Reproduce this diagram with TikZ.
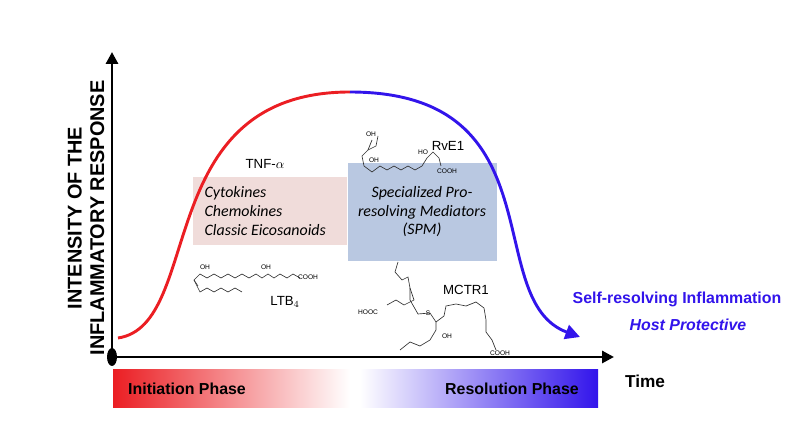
\documentclass[tikz,border=0pt]{standalone}
\usepackage{fontspec}
\setmainfont{Liberation Sans}
\newfontfamily\calib{Carlito}
\usetikzlibrary{arrows.meta,positioning}
\definecolor{initred}{RGB}{235,30,35}
\definecolor{resblue}{RGB}{50,20,235}
\definecolor{pinkbox}{RGB}{240,220,218}
\definecolor{bluebox}{RGB}{185,200,225}
\tikzset{
  axis/.style={line width=2.2pt,-{Triangle[length=9pt,width=9pt]}},
  phase/.style={font=\bfseries\fontsize{12}{13}\selectfont},
  mol/.style={line width=0.5pt,black!80},
  atom/.style={font=\fontsize{5}{5}\selectfont,inner sep=0.5pt},
  compound/.style={font=\fontsize{10}{11}\selectfont},
  group/.style={font=\calib\itshape\fontsize{12}{14}\selectfont,align=left}
}
\begin{document}
\begin{tikzpicture}[x=0.0265cm,y=-0.0265cm]
  \useasboundingbox (0,0) rectangle (810,441);
  % boxes and bars
  \node (pro) [fill=pinkbox,minimum width=154*0.0265cm,minimum height=68*0.0265cm,inner sep=0pt] at (270,211) {};
  \node [group,anchor=west] at (200,211) {Cytokines\\Chemokines\\Classic Eicosanoids};
  \node (spm) [fill=bluebox,minimum width=149*0.0265cm,minimum height=98*0.0265cm,inner sep=0pt] at (422.5,212) {};
  \node [group,align=center] at (422,212) {Specialized Pro-\\resolving Mediators\\(SPM)};
  \shade[left color=initred,right color=white] (113,370) rectangle (350,408);
  \shade[left color=white,right color=resblue] (360,370) rectangle (598,408);
  \node (init) [phase] at (187,389) {Initiation Phase};
  \node (res) [phase] at (512,389) {Resolution Phase};
  % axes
  \coordinate (o) at (112,357);
  \coordinate (ytop) at (112,52);
  \coordinate (xend) at (614,357);
  \draw[axis] (o) -- (ytop);
  \draw[axis] (o) -- (xend);
  \fill (o) ellipse (5 and 9);
  \node[phase,font=\bfseries\fontsize{13}{14}\selectfont] (time) at (645,381) {Time};
  \node[rotate=90,align=center,font=\bfseries\fontsize{15}{17}\selectfont] (ylab) at (86,218) {INTENSITY OF THE\\INFLAMMATORY RESPONSE};
  % response curve
  \coordinate (start) at (118,338);
  \coordinate (peak) at (350,92);
  \coordinate (endc) at (580,337);
  \draw[initred,line width=2.2pt] (start) .. controls (205,325) and (150,92) .. (peak);
  \draw[resblue,line width=2.2pt,-{Triangle[length=11pt,width=11pt]}] (peak) .. controls (560,92) and (480,300) .. (endc);
  \node[resblue,font=\bfseries\fontsize{12}{13}\selectfont] (self) at (677,299) {Self-resolving Inflammation};
  \node[resblue,font=\bfseries\itshape\fontsize{12}{13}\selectfont] (host) at (688,325) {Host Protective};
  % labels
  \node[compound] (tnf) at (265,164) {TNF-$\alpha$};
  \node[compound] (rve) at (448,146) {RvE1};
  \node[compound] (ltb) at (285,302) {LTB$_4$};
  \node[compound] (mctr) at (466,290) {MCTR1};
  % LTB4 sketch
  \draw[mol] (198,286) -- (194,280) -- (200,274) -- (207,278) -- (214,274) -- (221,278) -- (228,274) -- (235,278) -- (242,274) -- (249,278) -- (256,274) -- (262,278) -- (268,274) -- (274,278) -- (280,274) -- (287,278) -- (293,274) -- (300,278);
  \draw[mol] (194,280) -- (200,292) -- (207,288) -- (214,292) -- (221,288) -- (228,292) -- (235,288) -- (242,292);
  \node[atom] at (205,267) {OH};  \node[atom] at (266,267) {OH};  \node[atom] at (308,277) {COOH};
  % RvE1 sketch
  \draw[mol] (372,140) -- (368,150) -- (362,156) -- (364,166) -- (372,172) -- (380,166) -- (387,170) -- (394,166) -- (401,170) -- (408,166) -- (415,170) -- (422,166) -- (427,158) -- (433,152) -- (439,158) -- (441,166);
  \draw[mol] (368,150) -- (376,146) -- (378,136);
  \node[atom] at (371,134) {OH}; \node[atom] at (374,160) {OH}; \node[atom] at (423,152) {HO}; \node[atom] at (447,171) {COOH};
  % MCTR1 sketch
  \draw[mol] (398,262) -- (395,272) -- (402,280) -- (408,277) -- (410,288) -- (414,300) -- (404,305) -- (396,300) -- (387,305);
  \draw[mol] (410,288) -- (410,300) -- (418,314) -- (430,313) -- (436,322) -- (436,330) -- (430,340) -- (420,346) -- (410,342) -- (400,350);
  \draw[mol] (436,322) -- (444,316) -- (446,306) -- (456,304) -- (466,306) -- (476,302) -- (484,308) -- (486,320) -- (486,332) -- (492,340) -- (496,350);
  \node[atom] at (368,312) {HOOC}; \node[atom] at (447,336) {OH}; \node[atom] at (500,353) {COOH}; \node[atom] at (428,313) {S};
\end{tikzpicture}
\end{document}
